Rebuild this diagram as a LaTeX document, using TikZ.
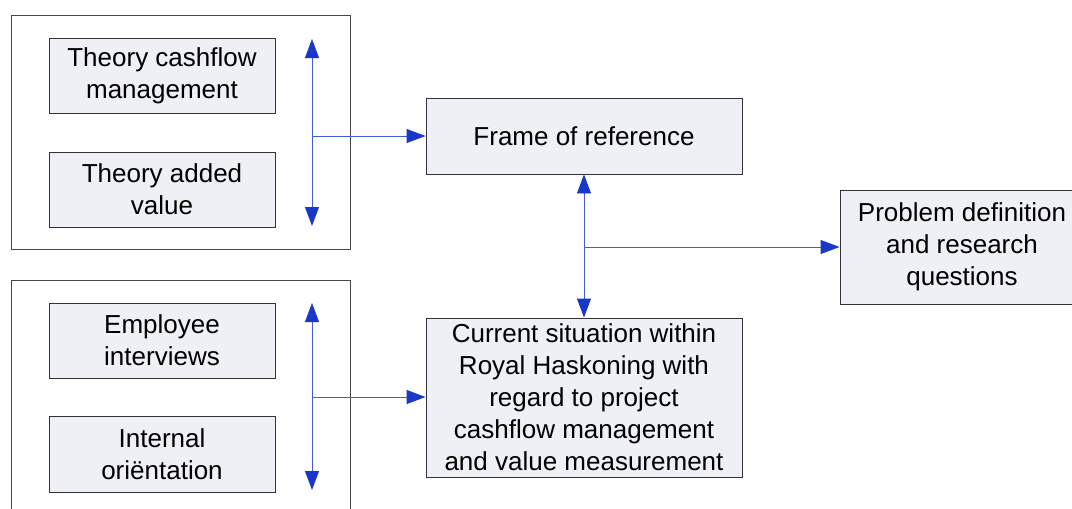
\documentclass[tikz,border=0pt]{standalone}
\usepackage{fontspec}
\setmainfont{Liberation Sans}
\usetikzlibrary{arrows.meta}
\definecolor{boxfill}{RGB}{238,240,245}
\definecolor{boxline}{RGB}{50,50,55}
\definecolor{groupline}{RGB}{70,70,75}
\definecolor{linkblue}{RGB}{60,95,225}
\definecolor{tipblue}{RGB}{25,55,200}
\begin{document}
\begin{tikzpicture}[x=1pt,y=-1pt,
  textbox/.style={draw=boxline,line width=0.9pt,fill=boxfill,inner sep=0pt,
    align=center,font=\fontsize{26}{32}\selectfont},
  groupbox/.style={draw=groupline,line width=0.9pt,fill=white},
  link/.style={draw=linkblue,line width=0.9pt},
  tip/.style={-{Triangle[length=19pt,width=14pt,color=tipblue]}},
  twotip/.style={{Triangle[length=19pt,width=14pt,color=tipblue]}-{Triangle[length=19pt,width=14pt,color=tipblue]}}
]
\useasboundingbox (0,0) rectangle (1072,509);
\begin{scope}
\clip (0,0) rectangle (1072,509);

% group frames
\draw[groupbox] (11,15) rectangle (350,249);
\draw[groupbox] (11,280) rectangle (350,530);

% source boxes
\node[textbox,minimum width=226pt,minimum height=75pt] (tcm) at (162,75.5) {Theory cashflow\\management};
\node[textbox,minimum width=226pt,minimum height=75pt] (tav) at (162,189.5) {Theory added\\value};
\node[textbox,minimum width=226pt,minimum height=75pt] (ei) at (162,340.5) {Employee\\interviews};
\node[textbox,minimum width=226pt,minimum height=76pt] (io) at (162,454) {Internal\\oriëntation};

% main boxes
\node[textbox,minimum width=316pt,minimum height=76pt] (frame) at (584,136) {Frame of reference};
\node[textbox,minimum width=316pt,minimum height=159pt] (cur) at (584,397.5)
  {Current situation within\\Royal Haskoning with\\regard to project\\cashflow management\\and value measurement};
\node[textbox,minimum width=244pt,minimum height=114pt] (prob) at (962,247)
  {Problem definition\\and research\\questions};
\end{scope}

% connector points
\coordinate (t1) at (312,39);
\coordinate (b1) at (312,226);
\coordinate (m1) at (312,136);
\coordinate (t2) at (312,303);
\coordinate (b2) at (312,490);
\coordinate (m2) at (312,397);
\coordinate (mc) at (584,247);

% connectors
\draw[link,twotip] (t1) -- (b1);
\draw[link,tip] (m1) -- (frame.west);
\draw[link,twotip] (t2) -- (b2);
\draw[link,tip] (m2) -- (cur.west |- m2);
\draw[link,twotip] (frame.south) -- (cur.north);
\draw[link,tip] (mc) -- (prob.west);
\end{tikzpicture}
\end{document}
